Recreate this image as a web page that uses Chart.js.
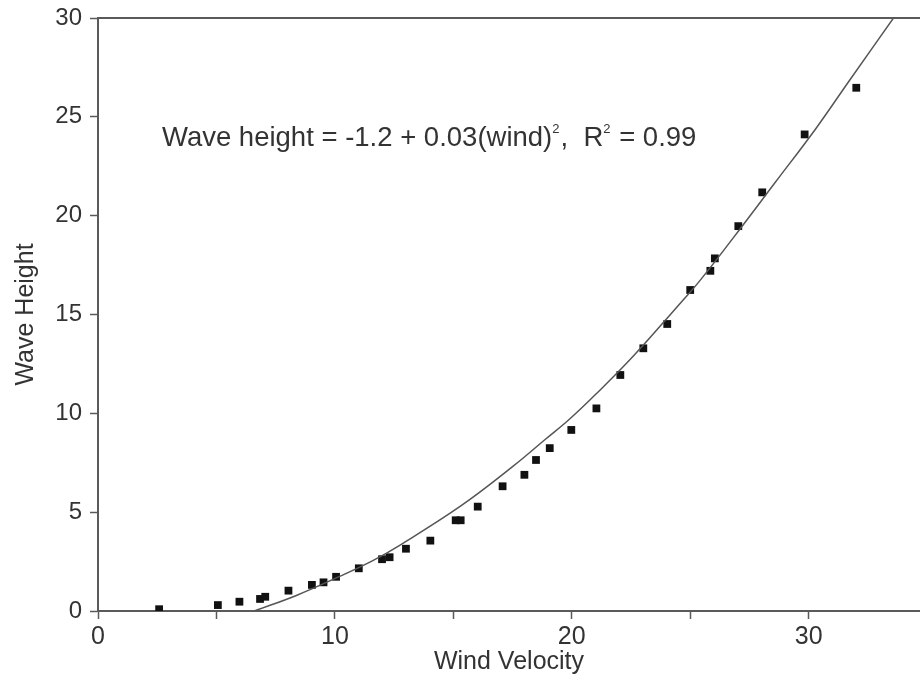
<!DOCTYPE html>
<html>
<head>
<meta charset="utf-8">
<script src="https://cdn.jsdelivr.net/npm/chart.js@4/dist/chart.umd.min.js"></script>
<style>
  body { margin: 0; background: #fff; }
  #wrap { width: 920px; height: 677px; }
</style>
</head>
<body>
<div id="wrap"><canvas id="waveChart"></canvas></div>
<script>
// measured points
const windX = [2.58, 5.06, 5.97, 6.84, 7.06, 8.04, 9.03, 9.52, 10.05, 11.01, 11.99, 12.31, 13.0, 14.03, 15.1, 15.31, 16.03, 17.08, 18.0, 18.49, 19.07, 19.98, 21.04, 22.05, 23.02, 24.03, 25.0, 25.85, 26.04, 27.03, 28.04, 29.83, 32.01];
const heightY = [0.09, 0.30, 0.47, 0.61, 0.72, 1.03, 1.32, 1.45, 1.73, 2.16, 2.62, 2.72, 3.15, 3.56, 4.59, 4.59, 5.28, 6.31, 6.89, 7.64, 8.24, 9.16, 10.25, 11.94, 13.29, 14.52, 16.24, 17.21, 17.84, 19.47, 21.18, 24.11, 26.47];

// fitted curve
const fitX = [6.6, 8.4, 10.2, 11.6, 12.7, 15.3, 17.5, 18.9, 19.9, 21.0, 22.6, 24.6, 25.4, 26.8, 28.6, 30.3, 31.7, 33.7];
const fitY = [0.0, 0.8, 1.75, 2.55, 3.3, 5.3, 7.3, 8.7, 9.7, 10.95, 12.9, 15.6, 16.7, 18.85, 21.7, 24.4, 26.8, 30.2];

const xTicks = [0, 10, 20, 30];
const fitLabel = ["Wave height = -1.2 + 0.03(wind)", "2", ",  R", "2", " = 0.99"];

const FONT = "'Liberation Sans', Arial, sans-serif";
const AXIS = "#5a5a5a";
const TEXT = "#333";

const pts = windX.map((x, i) => ({ x: x, y: heightY[i] }));
const fit = fitX.map((x, i) => ({ x: x, y: fitY[i] }));

// equation text + top frame line
const extras = {
    id: "extras",
    afterDraw(chart) {
        const ctx = chart.ctx;
        const a = chart.chartArea;
        ctx.save();
        ctx.strokeStyle = AXIS;
        ctx.lineWidth = 2;
        ctx.beginPath();
        ctx.moveTo(a.left, a.top);
        ctx.lineTo(a.right, a.top);
        ctx.stroke();

        let x = chart.scales.x.getPixelForValue(2.7);
        const y = chart.scales.y.getPixelForValue(23.5);
        ctx.fillStyle = TEXT;
        ctx.textBaseline = "alphabetic";
        fitLabel.forEach((part, i) => {
            const sup = i % 2 === 1;
            ctx.font = (sup ? "13px " : "27.5px ") + FONT;
            ctx.fillText(part, x, sup ? y - 13 : y);
            x += ctx.measureText(part).width + (sup ? 1 : 0);
        });
        ctx.restore();
    },
};

const waveChart = new Chart(document.getElementById("waveChart"), {
    type: "scatter",
    data: {
        datasets: [
            {
                label: "fit",
                type: "line",
                data: fit,
                borderColor: "#555",
                borderWidth: 1.5,
                pointRadius: 0,
                fill: false,
                tension: 0.4,
            },
            {
                label: "Wave height",
                data: pts,
                pointStyle: "rect",
                pointRadius: 5.5,
                pointBorderWidth: 0,
                backgroundColor: "#111",
                borderColor: "#111",
            },
        ],
    },
    options: {
        responsive: true,
        maintainAspectRatio: false,
        animation: false,
        layout: { autoPadding: false, padding: { top: 18, right: 0, left: 0, bottom: 0 } },
        plugins: {
            legend: { display: false },
            tooltip: { enabled: false },
        },
        scales: {
            x: {
                type: "linear",
                min: 0,
                max: 34.7,
                afterFit(scale) {
                    scale.height = 66;
                    scale.paddingLeft = 0;
                    scale.paddingRight = 0;
                },
                grid: {
                    drawOnChartArea: false,
                    drawTicks: true,
                    tickLength: 8,
                    tickWidth: 1.5,
                    tickColor: AXIS,
                },
                border: { color: AXIS, width: 2 },
                ticks: {
                    stepSize: 5,
                    includeBounds: false,
                    maxRotation: 0,
                    autoSkip: false,
                    padding: 3,
                    color: TEXT,
                    font: { family: FONT, size: 25 },
                    callback: (v) => (xTicks.includes(v) ? String(v) : ""),
                },
                title: {
                    display: true,
                    text: "Wind Velocity",
                    color: TEXT,
                    font: { family: FONT, size: 25, lineHeight: 1.2 },
                    padding: { top: 0, bottom: 0 },
                },
            },
            y: {
                min: 0,
                max: 30,
                afterFit(scale) {
                    scale.width = 98;
                    scale.paddingTop = 0;
                    scale.paddingBottom = 0;
                },
                grid: {
                    drawOnChartArea: false,
                    drawTicks: true,
                    tickLength: 8,
                    tickWidth: 1.5,
                    tickColor: AXIS,
                },
                border: { color: AXIS, width: 2 },
                ticks: {
                    stepSize: 5,
                    padding: 8,
                    color: TEXT,
                    font: { family: FONT, size: 24 },
                },
                title: {
                    display: true,
                    text: "Wave Height",
                    color: TEXT,
                    font: { family: FONT, size: 25, lineHeight: 1.2 },
                    padding: { top: 11, bottom: 0 },
                },
            },
        },
    },
    plugins: [extras],
});
</script>
</body>
</html>
